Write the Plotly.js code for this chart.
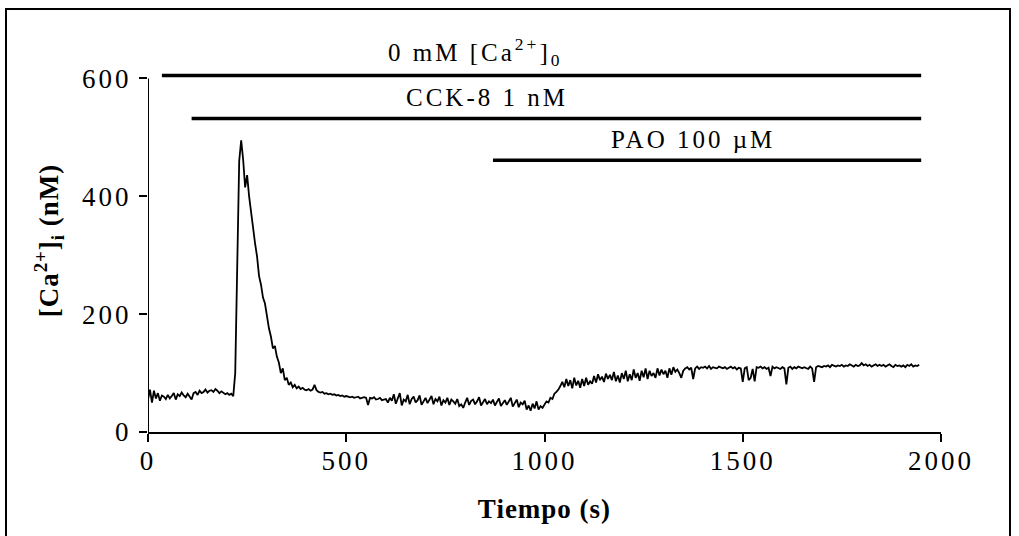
<!DOCTYPE html>
<html>
<head>
<meta charset="utf-8">
<script src="https://cdn.plot.ly/plotly-3.0.1.min.js"></script>
<style>
  html, body { margin: 0; padding: 0; background: #fff; }
  #wrap { position: relative; width: 1019px; height: 536px; overflow: hidden; }
  #chart { width: 1019px; height: 536px; }
  #frame { position: absolute; left: 5px; top: 8px; width: 1006px; height: 560px;
           border: 2px solid #000; pointer-events: none; box-sizing: border-box; }
  .xtick text, .ytick text { letter-spacing: 3px; }
  .annotation-text { letter-spacing: 3px; }
  .g-xtitle text, .g-ytitle text { letter-spacing: 1px; }
</style>
</head>
<body>
<div id="wrap">
  <div id="chart"></div>
  <div id="frame"></div>
</div>
<script>
// Trace sampled every 5 s starting at t = 0 s
const traceStart = 0;
const traceStep = 5;
const calcium = [
  55,72,50,70,57,66,53,62,60,56,
  63,57,61,66,55,64,61,67,62,59,
  65,59,55,66,68,63,70,66,68,72,
  67,70,71,68,73,70,66,69,67,64,
  66,63,65,61,100,290,460,495,462,415,
  436,400,370,342,320,298,265,250,228,218,
  196,176,162,142,146,128,118,100,108,88,
  92,80,84,76,80,74,77,73,75,72,
  71,73,70,72,80,71,68,67,68,65,
  66,64,65,63,64,62,63,61,62,60,
  61,60,59,60,58,59,60,57,58,59,
  58,46,58,57,59,55,56,58,54,55,
  56,50,58,53,64,48,57,66,45,55,
  52,63,47,56,60,50,54,62,46,53,
  58,49,55,61,47,56,52,60,45,54,
  50,58,46,55,52,48,56,44,47,41,
  50,58,46,53,55,47,52,59,45,50,
  56,47,52,49,55,45,51,57,44,50,
  54,46,52,58,43,49,55,42,50,47,
  53,38,45,36,48,40,52,38,44,41,
  47,52,50,58,56,65,68,72,78,85,
  76,90,78,88,74,92,79,87,75,90,
  78,92,80,86,82,95,84,98,88,94,
  85,99,90,97,88,102,86,96,84,100,
  90,104,86,98,88,106,92,100,87,104,
  93,108,90,104,95,100,92,108,96,106,
  98,104,92,108,97,110,102,106,100,92,
  104,108,110,106,109,90,108,111,107,110,
  109,111,108,112,107,110,109,108,111,110,
  108,110,107,109,111,108,110,106,109,108,
  85,108,110,88,92,107,86,110,109,111,
  108,110,107,109,95,111,108,110,109,107,
  110,108,81,109,111,107,110,108,111,109,
  108,110,109,107,111,108,85,110,112,111,
  110,112,111,113,110,114,112,111,113,112,
  114,111,113,112,115,113,111,114,112,113,
  117,113,115,112,114,111,113,115,112,114,
  112,114,111,113,115,112,110,114,112,113,
  111,113,110,114,112,115,111,113,112,114
];

// Treatment bars
const barLabels = ['0 mM [Ca<sup>2+</sup>]<sub>0</sub>', 'CCK-8 1 nM', 'PAO 100 µM'];
const barStart = [35, 110, 870];
const barEnd = [1950, 1950, 1950];
const barLevel = [605, 532, 461];

// Axis ticks
const xTicks = [0, 500, 1000, 1500, 2000];
const yTicks = [0, 200, 400, 600];

const serif = 'Liberation Serif, Times New Roman, serif';

const traces = [{
  type: 'scatter', mode: 'lines',
  x0: traceStart, dx: traceStep, y: calcium,
  line: { color: '#000', width: 1.8 },
  hoverinfo: 'x+y', showlegend: false
}];
for (let i = 0; i < barLabels.length; i++) {
  traces.push({
    type: 'scatter', mode: 'lines',
    x: [barStart[i], barEnd[i]], y: [barLevel[i], barLevel[i]],
    line: { color: '#000', width: 3.5 },
    hoverinfo: 'skip', showlegend: false
  });
}

const labelPos = [[825, 645], [855, 568], [1375, 496]];
const annotations = barLabels.map((t, i) => ({
  text: t, x: labelPos[i][0], y: labelPos[i][1], xref: 'x', yref: 'y',
  showarrow: false, xanchor: 'center', yanchor: 'middle',
  font: { family: serif, size: 25, color: '#000' }
}));

const layout = {
  width: 1019, height: 536,
  margin: { l: 148, r: 78, t: 48.5, b: 104 },
  paper_bgcolor: '#fff', plot_bgcolor: '#fff',
  showlegend: false,
  xaxis: {
    range: [0, 2000], tickvals: xTicks, ticktext: xTicks.map(String),
    showgrid: false, zeroline: false, showline: true, linecolor: '#000', linewidth: 2,
    ticks: 'outside', ticklen: 8, tickwidth: 2, tickcolor: '#000',
    ticklabelstandoff: -4,
    tickfont: { family: serif, size: 27, color: '#000' },
    title: { text: '<b>Tiempo (s)</b>', font: { family: serif, size: 27, color: '#000' }, standoff: 24 },
    automargin: false
  },
  yaxis: {
    range: [0, 650], tickvals: yTicks, ticktext: yTicks.map(String),
    showgrid: false, zeroline: false, showline: false,
    ticks: 'outside', ticklen: 8, tickwidth: 2, tickcolor: '#000',
    ticklabelstandoff: 2,
    tickfont: { family: serif, size: 27, color: '#000' },
    title: { text: '<b>[Ca<sup>2+</sup>]<sub>i</sub> (nM)</b>', font: { family: serif, size: 27, color: '#000' }, standoff: 15 },
    automargin: false
  },
  shapes: [{
    type: 'line', xref: 'x', yref: 'y', x0: 0, x1: 0, y0: 0, y1: yTicks[yTicks.length - 1],
    line: { color: '#000', width: 2 }
  }],
  annotations: annotations
};

Plotly.newPlot('chart', traces, layout, { displayModeBar: false, staticPlot: true });
</script>
</body>
</html>
